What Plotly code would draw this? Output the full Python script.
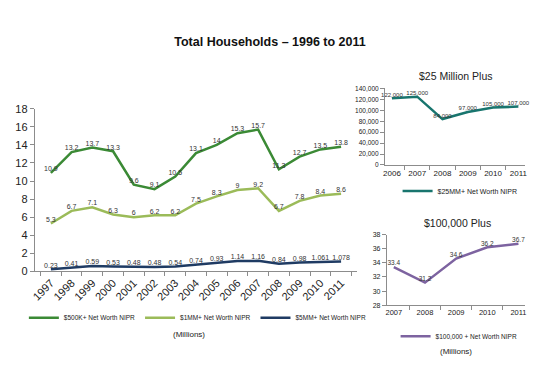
import plotly.graph_objects as go

W, H = 553, 369
OFF = 8  # page body margin offset in the browser
def px(x): return (x - OFF) / W
def py(y): return 1 - (y - OFF) / H

years_main = [str(y) for y in range(1997, 2012)]
s500k = [10.9, 13.2, 13.7, 13.3, 9.6, 9.1, 10.5, 13.1, 14, 15.3, 15.7, 11.3, 12.7, 13.5, 13.8]
s1mm = [5.3, 6.7, 7.1, 6.3, 6, 6.2, 6.2, 7.5, 8.3, 9, 9.2, 6.7, 7.8, 8.4, 8.6]
s5mm = [0.23, 0.41, 0.59, 0.53, 0.48, 0.48, 0.54, 0.74, 0.93, 1.14, 1.16, 0.84, 0.98, 1.061, 1.078]
s5mm_labels = ["0.23", "0.41", "0.59", "0.53", "0.48", "0.48", "0.54", "0.74", "0.93", "1.14", "1.16", "0.84", "0.98", "1.061", "1.078"]

years_25 = ["2006", "2007", "2008", "2009", "2010", "2011"]
s25mm = [122000, 125000, 84000, 97000, 105000, 107000]

years_100 = ["2007", "2008", "2009", "2010", "2011"]
s100k = [33.4, 31.2, 34.6, 36.2, 36.7]

FONT = "Liberation Sans"
GREEN = "#3b8a35"
LGREEN = "#9bbb59"
NAVY = "#1f3b63"
TEAL = "#18756e"
PURPLE = "#7d63a0"
AX = "#8c8c8c"

fig = go.Figure()
lab = dict(size=7, color="#333333", family=FONT)
lab2 = dict(size=6, color="#333333", family=FONT)

fig.add_trace(go.Scatter(x=years_main, y=s500k, mode="lines+text", text=[str(v) for v in s500k],
                         textposition="top center", textfont=lab, line=dict(color=GREEN, width=2.5),
                         name="$500K+ Net Worth NIPR", xaxis="x", yaxis="y", legend="legend", cliponaxis=False))
fig.add_trace(go.Scatter(x=years_main, y=s1mm, mode="lines+text", text=[str(v) for v in s1mm],
                         textposition="top center", textfont=lab, line=dict(color=LGREEN, width=2.5),
                         name="$1MM+ Net Worth NIPR", xaxis="x", yaxis="y", legend="legend", cliponaxis=False))
fig.add_trace(go.Scatter(x=years_main, y=s5mm, mode="lines+text", text=s5mm_labels,
                         textposition="top center", textfont=lab, line=dict(color=NAVY, width=2.5),
                         name="$5MM+ Net Worth NIPR", xaxis="x", yaxis="y", legend="legend", cliponaxis=False))

fig.add_trace(go.Scatter(x=years_25, y=s25mm, mode="lines+text", text=[f"{v:,}" for v in s25mm],
                         textposition="top center", textfont=lab2,
                         line=dict(color=TEAL, width=2.5),
                         name="$25MM+ Net Worth NIPR", xaxis="x2", yaxis="y2", legend="legend2", cliponaxis=False))

fig.add_trace(go.Scatter(x=years_100, y=s100k, mode="lines+text", text=[str(v) for v in s100k],
                         textposition="top center", textfont=dict(size=6.5, color="#333333", family=FONT),
                         line=dict(color=PURPLE, width=2.5),
                         name="$100,000 + Net Worth NIPR", xaxis="x3", yaxis="y3", legend="legend3", cliponaxis=False))

axcommon = dict(showgrid=False, zeroline=False, showline=True, linecolor=AX, linewidth=1,
                ticks="outside", tickcolor=AX, ticklen=4)

fig.update_layout(
    width=W, height=H,
    margin=dict(l=0, r=0, t=0, b=0),
    paper_bgcolor="white", plot_bgcolor="white",
    font=dict(family=FONT, color="#222222"),
    title=dict(text="<b>Total Households – 1996 to 2011</b>", x=px(270), y=py(42), xanchor="center",
               yanchor="middle", font=dict(size=12.5, family=FONT, color="#111111")),
    xaxis=dict(domain=[px(31), px(357)], anchor="y", type="category", tickson="boundaries",
               tickangle=-45, tickfont=dict(size=11), **axcommon),
    yaxis=dict(domain=[py(274), py(106)], anchor="x", range=[0, 18], dtick=2,
               tickfont=dict(size=11), **axcommon),
    xaxis2=dict(domain=[px(385), px(527)], anchor="y2", type="category", tickson="boundaries",
                tickangle=0, tickfont=dict(size=8), **axcommon),
    yaxis2=dict(domain=[py(164), py(85)], anchor="x2", range=[0, 140000], dtick=20000,
                tickformat=",", tickfont=dict(size=6.5), **axcommon),
    xaxis3=dict(domain=[px(387), px(527)], anchor="y3", type="category", tickson="boundaries",
                tickangle=0, tickfont=dict(size=7.5), **axcommon),
    yaxis3=dict(domain=[py(309), py(236)], anchor="x3", range=[28, 38], dtick=2,
                tickfont=dict(size=7), **axcommon),
    legend=dict(orientation="h", x=px(20), y=py(322), xanchor="left", yanchor="middle",
                font=dict(size=6.5), itemwidth=30, bgcolor="rgba(0,0,0,0)"),
    legend2=dict(orientation="h", x=px(461), y=py(191), xanchor="center", yanchor="middle",
                 font=dict(size=7), itemwidth=30, bgcolor="rgba(0,0,0,0)"),
    legend3=dict(orientation="h", x=px(460), y=py(341), xanchor="center", yanchor="middle",
                 font=dict(size=6.5), itemwidth=30, bgcolor="rgba(0,0,0,0)"),
    annotations=[
        dict(text="(Millions)", x=px(187), y=py(339), xref="paper", yref="paper", showarrow=False,
             xanchor="center", yanchor="middle", font=dict(size=8, family=FONT)),
        dict(text="(Millions)", x=px(457), y=py(357), xref="paper", yref="paper", showarrow=False,
             xanchor="center", yanchor="middle", font=dict(size=8, family=FONT)),
        dict(text="$25 Million Plus", x=px(457), y=py(72), xref="paper", yref="paper", showarrow=False,
             xanchor="center", yanchor="middle", font=dict(size=10.5, family=FONT)),
        dict(text="$100,000 Plus", x=px(458), y=py(224), xref="paper", yref="paper", showarrow=False,
             xanchor="center", yanchor="middle", font=dict(size=10.5, family=FONT)),
    ],
)

fig.write_html("out.html")
